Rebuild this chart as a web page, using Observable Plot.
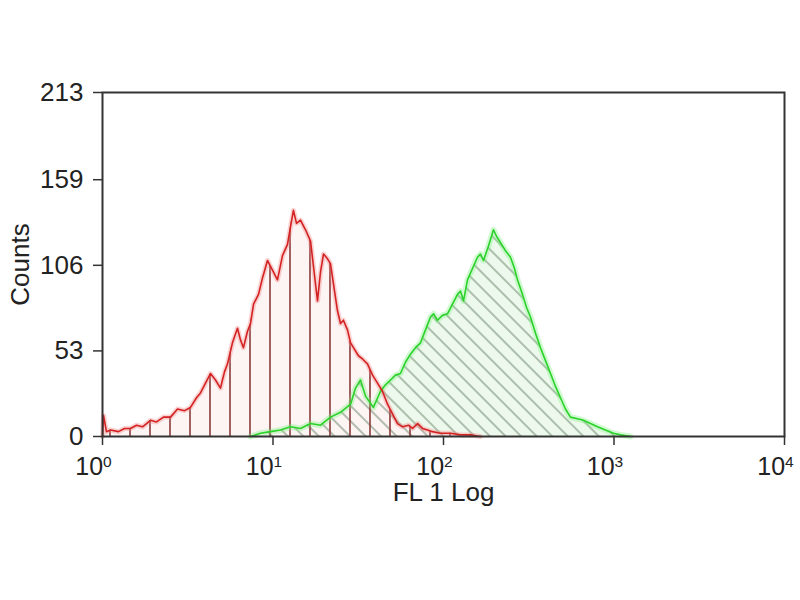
<!DOCTYPE html>
<html><head><meta charset="utf-8">
<script src="https://cdn.jsdelivr.net/npm/d3@7"></script>
<script src="https://cdn.jsdelivr.net/npm/@observablehq/plot@0.6"></script>
<style>body{margin:0;background:#fff}</style>
</head><body><div id="chart"></div>
<script>
// Isotype control (red) histogram: FL1 intensity and counts
const redFL = [1.0, 1.014,1.055,1.114,1.241,1.346,1.459,1.583,1.717,1.912,2.074,2.279,2.506,2.754,3.027,3.281,3.559,3.756,4.018,4.297,4.600,4.920,5.194,5.410,5.783,6.19,6.44,6.71,7.08,7.38,7.69,8.22,8.67,9.28,9.93,10.62,11.37,12.16,12.67,13.18,13.74,14.49,15.52,16.60,17.51,18.24,19.0,19.78,20.89,21.73,22.96,23.88,24.89,25.88,27.35,28.51,29.65,31.71,33.50,35.82,38.37,41.02,43.86,46.97,50.23,53.70,57.5,62.4,65.8,70.5,75.3,80.5,86.1,95.9,109.9,125.9,143.9,164.8];
const redCounts = [0, 13,3,4,3,5,5,7,6,10,9,12,12,17,16,18,24,27,33,39,35,30,40,45,58,67,60,55,65,70,82,88,98,109,103,97,112,119,130,140,132,134,128,121,100,84,102,113,110,107,90,78,70,72,66,58,55,50,48,45,38,33,28,20,14,8,6,7,5,8,5,4,3,2,2,1,1,0];
// Stained sample (green) histogram
const greenFL = [7.38,8.45,9.67,11.07,12.67,14.49,16.60,19.0,21.73,24.89,28.51,30.48,32.60,34.9,38.8,42.7,45.7,48.9,52.3,55.9,59.8,64.0,68.5,73.3,78.4,83.9,87.4,92.2,98.6,105.5,112.9,120.8,125.9,131.0,138.3,147.9,158.2,164.8,171.6,183.6,196.4,204.6,216.0,231.1,247.2,260.9,271.7,290.6,306.8,323.6,346.6,370.7,396.5,424.3,453.9,485.6,519.5,555.7,610.9,662.2,727.8,800.5,891.3,993.1,1091,1250];
const greenCounts = [0,2,3,4,6,5,8,7,12,15,20,30,35,25,18,28,32,35,38,39,46,51,55,58,66,74,76,72,75,76,82,88,90,84,97,104,111,113,109,118,128,124,120,115,111,104,97,88,80,74,64,55,47,39,31,24,17,12,11,10,8,6,4,2,1,0];
const xTicks = [1, 10, 100, 1000, 10000];
const yTicks = [0, 53, 106, 159, 213];
const xLabel = "FL 1 Log";
const yLabel = "Counts";

const red = redFL.map((x, i) => ({x, y: redCounts[i]}));
const green = greenFL.map((x, i) => ({x, y: greenCounts[i]}));

const chart = Plot.plot({
  width: 800, height: 600,
  marginLeft: 102, marginRight: 16, marginTop: 92, marginBottom: 164,
  style: {fontFamily: "'Liberation Sans', Arial, sans-serif", background: "#fff", color: "#222"},
  x: {type: "log", domain: [1, 10000]},
  y: {domain: [0, 213]},
  marks: [
    Plot.areaY(green, {x: "x", y: "y", fill: "#eef9ee"}),
    Plot.areaY(red, {x: "x", y: "y", fill: "#fdf4f4"}),
    Plot.areaY(green, {x: "x", y: "y", fill: "url(#greenHatch)"}),
    Plot.areaY(red, {x: "x", y: "y", fill: "url(#redHatch)"}),
    Plot.line(green, {x: "x", y: "y", stroke: "#7ef07e", strokeWidth: 6, strokeOpacity: 0.35}),
    Plot.line(red, {x: "x", y: "y", stroke: "#f08080", strokeWidth: 5, strokeOpacity: 0.35}),
    Plot.line(green, {x: "x", y: "y", stroke: "#2ad22a", strokeWidth: 1.6}),
    Plot.line(red, {x: "x", y: "y", stroke: "#d42222", strokeWidth: 1.6}),
    Plot.frame({stroke: "#333", strokeWidth: 2}),
    Plot.axisY({ticks: yTicks, tickSize: 9, tickPadding: 10, fontSize: 26, stroke: "#333", strokeWidth: 1.5,
      label: yLabel, labelAnchor: "center", labelArrow: "none", labelOffset: 92}),
    Plot.axisX({ticks: xTicks, tickSize: 9, tickPadding: 12, fontSize: 25, stroke: "#333", strokeWidth: 1.5,
      tickFormat: d => String(Math.round(Math.log10(d))),
      label: xLabel, labelAnchor: "center", labelArrow: "none", labelOffset: 64})
  ]
});

const svg = d3.select(chart);
svg.selectAll('g[aria-label="x-axis label"] text').attr("font-size", 26);
const defs = svg.insert("defs", ":first-child");
const rp = defs.append("pattern").attr("id", "redHatch").attr("patternUnits", "userSpaceOnUse")
  .attr("width", 20).attr("height", 20);
rp.append("line").attr("x1", 10).attr("x2", 10).attr("y1", 0).attr("y2", 20)
  .attr("stroke", "#8a3a3a").attr("stroke-width", 1.6);
const gp = defs.append("pattern").attr("id", "greenHatch").attr("patternUnits", "userSpaceOnUse")
  .attr("width", 11).attr("height", 11).attr("patternTransform", "rotate(-45)");
gp.append("line").attr("x1", 5).attr("x2", 5).attr("y1", 0).attr("y2", 11)
  .attr("stroke", "#6a866a").attr("stroke-width", 1);

svg.selectAll('g[aria-label="x-axis tick label"] text').each(function () {
  const e = this.textContent;
  const t = d3.select(this);
  t.text("10").attr("dx", -9);
  t.append("tspan").attr("font-size", "0.62em").attr("dy", "-0.55em").text(e);
});

document.getElementById("chart").append(chart);
</script>
</body></html>
